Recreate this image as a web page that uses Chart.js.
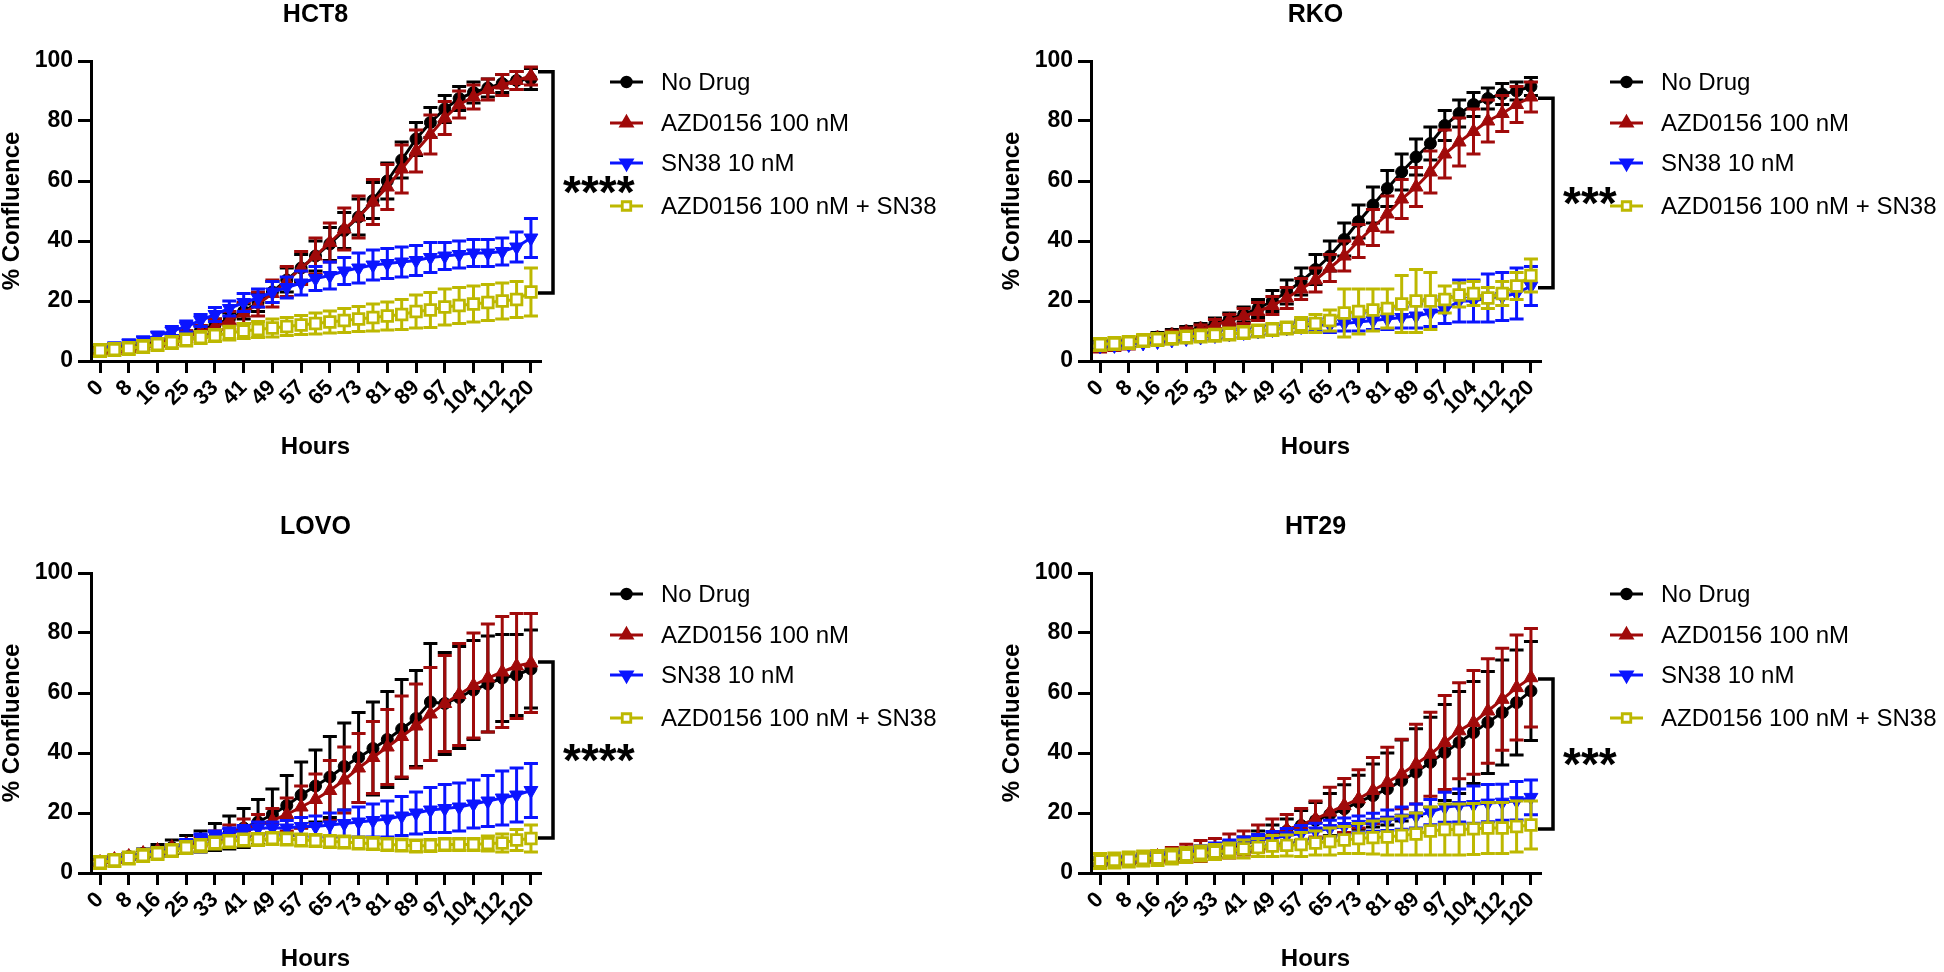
<!DOCTYPE html>
<html>
<head>
<meta charset="utf-8">
<script src="https://cdn.jsdelivr.net/npm/chart.js@4.4.1/dist/chart.umd.min.js"></script>
<style>
  html, body { margin: 0; padding: 0; background: #fff; overflow: hidden; }
  body { width: 1944px; height: 972px; position: relative; }
  canvas { position: absolute; }
</style>
</head>
<body>
<canvas id="hct8" width="944" height="460" style="left:0;top:0"></canvas>
<canvas id="rko" width="944" height="460" style="left:1000px;top:0"></canvas>
<canvas id="lovo" width="944" height="460" style="left:0;top:512px"></canvas>
<canvas id="ht29" width="944" height="460" style="left:1000px;top:512px"></canvas>
<script>
// time points (hours), every other one is labelled on the axis
const hours = [0, 4, 8, 12, 16, 20, 25, 29, 33, 37, 41, 45, 49, 53, 57, 61, 65, 69, 73, 77, 81, 85, 89, 93, 97, 101, 104, 108, 112, 116, 120];

const seriesNames = ['No Drug', 'AZD0156 100 nM', 'SN38 10 nM', 'AZD0156 100 nM + SN38'];

// HCT8
const hct8NoDrug = [3.5, 4, 4.7, 5.5, 6.5, 7.5, 8.8, 10.3, 12, 14, 16.5, 19.5, 23, 27, 31, 35, 39, 43.5, 48, 53.5, 60, 67, 74, 79.5, 84, 87.5, 89.5, 91, 92.5, 93.5, 94];
const hct8NoDrugSd = [1, 1, 1, 1, 1, 1, 1.2, 1.5, 2, 2, 2.5, 3, 3.5, 4, 4.5, 5, 5.5, 6, 6, 6, 6, 6, 5.5, 5, 4.5, 4, 3.5, 3, 3, 3, 3.5];
const hct8Azd = [3, 3.5, 4.2, 5, 6, 7, 8.3, 9.8, 11.5, 13.5, 16, 19, 22.5, 26.5, 31, 35, 39.5, 44, 48, 53, 58, 64, 70, 75.5, 81, 85.5, 88, 90.5, 92, 93.5, 95];
const hct8AzdSd = [1, 1, 1, 1, 1.2, 1.5, 1.8, 2, 2.5, 3, 3.5, 4, 4.5, 5, 5.5, 6, 6.5, 7, 7, 7.5, 7.5, 8, 7, 6.5, 5.5, 4.5, 4, 3.5, 3.5, 3, 3];
const hct8Sn38 = [4.5, 5, 6, 7, 8.5, 10, 11.5, 13.5, 15.5, 17.5, 19.5, 21, 23, 24.5, 26, 27.5, 28.5, 30, 31, 32, 32.5, 33, 33.5, 34.5, 35, 35.5, 36, 36, 36.5, 38, 41];
const hct8Sn38Sd = [1, 1, 1, 1, 1.2, 1.5, 1.8, 2, 2.3, 2.5, 3, 3, 3.5, 3.5, 4, 4, 4.5, 4.5, 5, 5, 5, 5, 5, 5, 4.5, 4.5, 4.5, 4.5, 4.5, 5, 6.5];
const hct8Combo = [3.5, 3.8, 4.2, 4.8, 5.5, 6.2, 7, 7.8, 8.5, 9.3, 10, 10.5, 11, 11.5, 12, 12.5, 13, 13.5, 14, 14.5, 15, 15.5, 16.5, 17, 18, 18.5, 19, 19.5, 20, 20.5, 23];
const hct8ComboSd = [2, 2, 2, 2, 2, 2, 2, 2, 2, 2.3, 2.5, 2.7, 3, 3, 3.2, 3.5, 3.7, 4, 4.2, 4.5, 4.7, 5, 5.5, 5.8, 6, 6, 6, 6, 6, 6, 8];

// RKO
const rkoNoDrug = [5, 5.5, 6, 7, 8, 9, 10, 11, 12.5, 14, 15.5, 17.5, 20, 23, 26.5, 30.5, 35, 40.5, 46.5, 52, 57.5, 63, 68, 72.5, 78.5, 82.5, 85.5, 87.5, 89, 90, 91.5];
const rkoNoDrugSd = [1.5, 1.5, 1.5, 1.5, 1.5, 1.5, 1.5, 1.5, 1.8, 2, 2.5, 3, 3.5, 4, 4.5, 5, 5, 5.5, 5.5, 6, 6, 6, 6, 5.5, 5, 4.5, 4, 3.5, 3.5, 3, 3];
const rkoAzd = [4.5, 5, 5.5, 6.5, 7.5, 8.5, 9.5, 10.5, 12, 13.5, 15, 16.5, 18.5, 21, 24, 27, 31, 35, 40, 44.5, 49, 54, 58, 63, 69, 73, 76.5, 80, 82.5, 85.5, 88];
const rkoAzdSd = [1.5, 1.5, 1.5, 1.5, 1.5, 1.5, 1.5, 1.5, 1.8, 2, 2.5, 3, 3, 3.5, 3.5, 4, 4.5, 5, 5.5, 6, 6, 6.5, 6.5, 7, 8, 8, 7.5, 7, 6, 6, 5];
const rkoSn38 = [5, 5.2, 5.5, 6, 6.5, 7, 7.5, 8, 8.5, 9, 9.5, 10, 10.5, 11, 11.5, 12, 12, 12.5, 13, 13.5, 14, 14.5, 15, 16, 17, 20, 20, 21, 21.5, 22.5, 25];
const rkoSn38Sd = [1, 1, 1, 1, 1, 1, 1, 1, 1.2, 1.3, 1.5, 1.5, 1.5, 1.7, 2, 2, 2.5, 2.5, 3, 3, 3.5, 3.5, 4, 4.5, 4.5, 7, 7, 8, 8, 8.5, 6.5];
const rkoCombo = [5.5, 5.8, 6.2, 6.8, 7.2, 7.6, 8, 8.3, 8.6, 9, 9.5, 10, 10.5, 11, 12, 12.5, 13.5, 16, 16.5, 17, 17.5, 19, 20, 20, 20.5, 22, 22.5, 21, 22.5, 25, 28.5];
const rkoComboSd = [2, 2, 2, 2, 2, 2, 2, 2, 2, 2, 2, 2, 2, 2, 2.5, 3, 3.5, 8, 7.5, 7, 6.5, 9.5, 10.5, 9.5, 4.5, 4, 4, 3.5, 4, 4.5, 5.5];

// LOVO
const lovoNoDrug = [3.5, 4.5, 5.5, 6.5, 7.5, 8.5, 9.5, 10.5, 12, 13.5, 15, 17, 19.5, 22.5, 26, 29, 32, 35.5, 38.5, 41.5, 44.5, 48, 51.5, 57, 56.5, 58.5, 61, 63, 65, 66, 68];
const lovoNoDrugSd = [1, 1, 1, 1.5, 2, 2.5, 3, 3.5, 4.5, 5.5, 6.5, 7.5, 8.5, 10, 11, 12, 13.5, 14.5, 15, 15.5, 16, 16.5, 16, 19.5, 17, 17, 16.5, 16, 14.5, 13.5, 13];
const lovoAzd = [3.5, 4.5, 5.5, 6.5, 7.5, 8.5, 9.5, 10.5, 12, 13.5, 15, 16, 17.5, 19.5, 22, 24.5, 27.5, 31, 35, 38.5, 42, 45.5, 49, 53, 56.5, 59.5, 62.5, 65, 67, 69, 70];
const lovoAzdSd = [1, 1, 1, 1, 1, 1, 1.2, 1.5, 2, 2.5, 3, 3.5, 4, 5.5, 7, 8.5, 10, 11, 11.5, 12, 12.5, 13.5, 14, 15.5, 16, 17, 17.5, 18, 18.5, 17.5, 16.5];
const lovoSn38 = [4, 4.8, 5.5, 6.5, 7.5, 8.5, 10, 11.5, 12.5, 13.5, 14, 15, 15, 15, 15.5, 15.5, 16, 16.5, 17, 17.5, 18, 19, 20, 21, 21.5, 22, 23, 24, 25, 26, 27.5];
const lovoSn38Sd = [1, 1, 1, 1, 1, 1, 1.2, 1.5, 1.5, 1.5, 1.8, 2, 2, 2.5, 3, 3.5, 4, 4.5, 5, 5.5, 6, 6.5, 7, 7.5, 8, 8, 8, 8.5, 9, 9, 9];
const lovoCombo = [3.5, 4.2, 5, 5.8, 6.5, 7.5, 8.5, 9.2, 10, 10.5, 11, 11.2, 11.5, 11.3, 11, 10.8, 10.5, 10.3, 10, 9.8, 9.5, 9.3, 9, 9.2, 9.5, 9.5, 9.5, 9.8, 10, 11, 11.5];
const lovoComboSd = [2, 2, 2, 2, 2, 2, 2, 2, 2, 2, 2, 2, 2, 2, 2, 2, 2, 2, 2, 2, 2, 2, 2, 2, 2, 2, 2, 2.5, 3, 3.5, 4.5];

// HT29
const ht29NoDrug = [3.5, 3.7, 4, 4.5, 5, 5.5, 6, 6.8, 7.5, 8.5, 9.5, 11, 12.5, 14, 15.8, 17.5, 19.5, 21.4, 23.6, 25.8, 28, 30.8, 33.6, 36.9, 40.2, 43.5, 46.8, 50.2, 53.5, 56.8, 60.7];
const ht29NoDrugSd = [1, 1, 1, 1, 1, 1, 1.2, 1.5, 1.8, 2, 2.5, 3, 3.5, 4, 5, 6, 7, 8, 9, 10.5, 12, 13.5, 14.5, 15, 16, 17, 17, 17, 17.5, 17.5, 16.5];
const ht29Azd = [4, 4.3, 4.6, 5, 5.5, 6, 6.6, 7.3, 8, 9, 10, 11.5, 13, 14.5, 16, 18, 20.3, 22.5, 24.7, 27.5, 30.2, 33, 36.3, 39.6, 43.5, 47.4, 50.2, 54, 57.9, 61.8, 65.1];
const ht29AzdSd = [1, 1, 1, 1.5, 2, 2.5, 3, 3.5, 3.5, 4, 4, 4.5, 5, 5, 5.5, 6, 8.3, 9, 9.7, 11, 11.7, 11.6, 13.3, 14, 15.7, 16, 17.3, 17.4, 17, 17.5, 16.4];
const ht29Sn38 = [4, 4.3, 4.7, 5.2, 5.8, 6.4, 7, 7.7, 8.4, 9.2, 10, 10.8, 11.6, 12.4, 13.2, 14, 14.8, 15.5, 16.2, 16.9, 17.6, 18.3, 19, 20.3, 21.9, 22.5, 22.8, 23.3, 23.6, 24.1, 25.2];
const ht29Sn38Sd = [1, 1, 1, 1, 1, 1, 1.2, 1.4, 1.6, 1.8, 2, 2, 2.2, 2.4, 2.6, 2.6, 2.8, 2.8, 2.8, 3, 3.4, 3.7, 4, 4.2, 5, 5.5, 6.2, 6.2, 6, 6.4, 5.8];
const ht29Combo = [4, 4.2, 4.5, 4.8, 5, 5.5, 6, 6.5, 7, 7.5, 8, 8.5, 9, 9.2, 9.5, 10, 10.5, 11, 11.5, 11.8, 12, 12.5, 13, 14, 14.5, 14.5, 14.7, 15, 15, 15.5, 16];
const ht29ComboSd = [2.5, 2.5, 2.5, 2.5, 2.5, 2.5, 2.5, 2.5, 2.5, 2.5, 3, 3, 3.5, 3.5, 4, 4, 4.5, 4.5, 5, 5.5, 6, 6.5, 7, 8, 8.5, 8.5, 8.5, 8.5, 8.5, 8.5, 8];

// significance brackets: [top value, bottom value] and label
const bracketTop = [96.4, 87.6, 70.3, 64.7];
const bracketBottom = [22.7, 24.4, 11.7, 14.7];
const starLabels = ['****', '***', '****', '***'];

const FONT = "'Liberation Sans', Arial, Helvetica, sans-serif";
const colors = ['#000000', '#A00A0A', '#0A14FF', '#BDB800'];
const pointStyles = ['circle', 'triangle', 'triangle', 'rect'];
const pointRotations = [0, 0, 180, 0];
const pointRadii = [6, 8, 8, 7.5];

Chart.defaults.font.family = FONT;
Chart.defaults.color = '#000';

const errorBars = {
  id: 'errorBars',
  beforeDatasetDraw(chart, args) {
    const ds = chart.data.datasets[args.index];
    const y = chart.scales.y;
    const ctx = chart.ctx;
    ctx.save();
    ctx.strokeStyle = ds.borderColor;
    ctx.lineWidth = 3;
    args.meta.data.forEach((pt, i) => {
      const v = ds.data[i].y;
      const e = ds.sd[i];
      const yt = y.getPixelForValue(v + e);
      const yb = y.getPixelForValue(v - e);
      ctx.beginPath();
      ctx.moveTo(pt.x, yt);
      ctx.lineTo(pt.x, yb);
      ctx.moveTo(pt.x - 7, yt);
      ctx.lineTo(pt.x + 7, yt);
      ctx.moveTo(pt.x - 7, yb);
      ctx.lineTo(pt.x + 7, yb);
      ctx.stroke();
    });
    ctx.restore();
  }
};

function extras(panel) {
  return {
    id: 'extras',
    afterDraw(chart) {
      const { ctx, chartArea: a } = chart;
      const y = chart.scales.y;
      ctx.save();
      // bracket
      const bx = a.right + 13;
      const yt = y.getPixelForValue(bracketTop[panel]);
      const yb = y.getPixelForValue(bracketBottom[panel]);
      ctx.strokeStyle = '#000';
      ctx.lineWidth = 3.5;
      ctx.beginPath();
      ctx.moveTo(bx - 15, yt);
      ctx.lineTo(bx, yt);
      ctx.lineTo(bx, yb);
      ctx.lineTo(bx - 15, yb);
      ctx.stroke();
      ctx.fillStyle = '#000';
      ctx.font = 'bold 46px ' + FONT;
      ctx.textAlign = 'left';
      ctx.textBaseline = 'alphabetic';
      ctx.fillText(starLabels[panel], bx + 10, (yt + yb) / 2 + 26);

      // legend
      const rows = [21, 62, 102, 145];
      chart.data.datasets.forEach((ds, i) => {
        const ly = a.top + rows[i];
        const x0 = a.right + 70, x1 = a.right + 103;
        ctx.strokeStyle = ds.borderColor;
        ctx.lineWidth = 2.8;
        ctx.beginPath();
        ctx.moveTo(x0, ly);
        ctx.lineTo(x1, ly);
        ctx.stroke();
        ctx.fillStyle = ds.pointBackgroundColor;
        Chart.helpers.drawPoint(ctx, {
          pointStyle: ds.pointStyle,
          rotation: ds.pointRotation,
          radius: ds.pointRadius * 0.8,
          borderWidth: ds.pointBorderWidth
        }, (x0 + x1) / 2, ly);
        ctx.fillStyle = '#000';
        ctx.font = '24px ' + FONT;
        ctx.textBaseline = 'middle';
        ctx.fillText(ds.label, a.right + 121, ly + 1);
      });
      ctx.restore();
    }
  };
}

function makePanel(id, panel, title, means, sds) {
  const datasets = means.map((vals, s) => ({
    label: seriesNames[s],
    data: vals.map((v, i) => ({ x: i, y: v })),
    sd: sds[s],
    borderColor: colors[s],
    backgroundColor: colors[s],
    borderWidth: 3,
    tension: 0,
    pointStyle: pointStyles[s],
    pointRotation: pointRotations[s],
    pointRadius: pointRadii[s],
    pointBorderWidth: s === 3 ? 2.8 : 1,
    pointBorderColor: colors[s],
    pointBackgroundColor: s === 3 ? '#ffffff' : colors[s],
    order: 3 - s
  }));

  new Chart(document.getElementById(id), {
    type: 'line',
    data: { datasets },
    plugins: [errorBars, extras(panel)],
    options: {
      responsive: false,
      animation: false,
      events: [],
      layout: { padding: { left: 0, right: 404, top: 0, bottom: 1 } },
      plugins: {
        legend: { display: false },
        tooltip: { enabled: false },
        title: {
          display: true,
          text: title,
          fullSize: false,
          color: '#000',
          font: { size: 25, weight: 'bold', lineHeight: 1.2 },
          padding: { top: 0, bottom: 31 }
        }
      },
      scales: {
        x: {
          type: 'linear',
          min: -0.63,
          max: 30.63,
          afterFit(scale) { scale.height = 98; },
          border: { color: '#000', width: 3 },
          grid: { drawOnChartArea: false, drawTicks: true, tickLength: 12, color: '#000', lineWidth: 3 },
          ticks: {
            stepSize: 2,
            includeBounds: false,
            autoSkip: false,
            minRotation: 45,
            maxRotation: 45,
            padding: 2,
            color: '#000',
            font: { size: 22, weight: 'bold' },
            callback: (v) => hours[v]
          },
          title: {
            display: true,
            text: 'Hours',
            color: '#000',
            font: { size: 24, weight: 'bold', lineHeight: 1 },
            padding: 0
          }
        },
        y: {
          min: 0,
          max: 100,
          afterFit(scale) { scale.width = 91; },
          border: { color: '#000', width: 3 },
          grid: { drawOnChartArea: false, drawTicks: true, tickLength: 13, color: '#000', lineWidth: 3 },
          ticks: {
            stepSize: 20,
            padding: 5,
            color: '#000',
            font: { size: 23, weight: 'bold' }
          },
          title: {
            display: true,
            text: '% Confluence',
            color: '#000',
            font: { size: 24, weight: 'bold', lineHeight: 1 },
            padding: 0
          }
        }
      }
    }
  });
}

makePanel('hct8', 0, 'HCT8',
  [hct8NoDrug, hct8Azd, hct8Sn38, hct8Combo],
  [hct8NoDrugSd, hct8AzdSd, hct8Sn38Sd, hct8ComboSd]);
makePanel('rko', 1, 'RKO',
  [rkoNoDrug, rkoAzd, rkoSn38, rkoCombo],
  [rkoNoDrugSd, rkoAzdSd, rkoSn38Sd, rkoComboSd]);
makePanel('lovo', 2, 'LOVO',
  [lovoNoDrug, lovoAzd, lovoSn38, lovoCombo],
  [lovoNoDrugSd, lovoAzdSd, lovoSn38Sd, lovoComboSd]);
makePanel('ht29', 3, 'HT29',
  [ht29NoDrug, ht29Azd, ht29Sn38, ht29Combo],
  [ht29NoDrugSd, ht29AzdSd, ht29Sn38Sd, ht29ComboSd]);
</script>
</body>
</html>
